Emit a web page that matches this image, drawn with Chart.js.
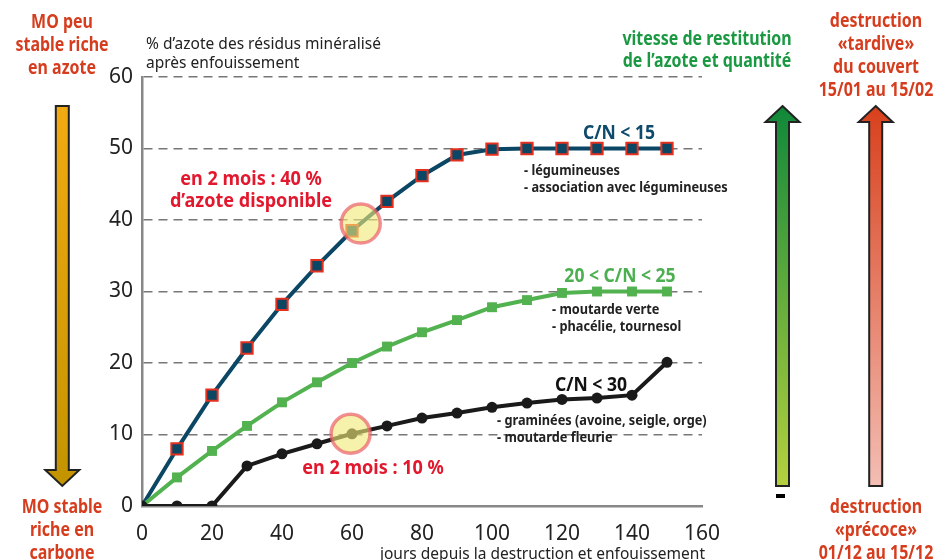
<!DOCTYPE html>
<html>
<head>
<meta charset="utf-8">
<script src="https://cdn.jsdelivr.net/npm/chart.js@4.4.0/dist/chart.umd.min.js"></script>
<style>
  html, body { margin: 0; padding: 0; background: #fff; }
  #wrap { width: 937px; height: 560px; position: relative; }
</style>
</head>
<body>
<div id="wrap"><canvas id="myChart" width="937" height="560"></canvas></div>
<script>
// jours depuis la destruction
const jours = [0, 10, 20, 30, 40, 50, 60, 70, 80, 90, 100, 110, 120, 130, 140, 150];
// % d'azote minéralisé
const cnMoins15 = [0, 8.0, 15.5, 22.1, 28.2, 33.6, 38.5, 42.6, 46.2, 49.1, 49.9, 50, 50, 50, 50, 50];
const cn20a25 = [0, 4.0, 7.7, 11.2, 14.5, 17.3, 20.0, 22.3, 24.3, 26.0, 27.8, 28.8, 29.8, 30, 30, 30];
const cnMoins30 = [0, 0, 0, 5.6, 7.3, 8.7, 10.1, 11.2, 12.3, 13.0, 13.8, 14.4, 14.9, 15.1, 15.5, 20.1];
const yTicks = [0, 10, 20, 30, 40, 50, 60];
const xTicks = [0, 20, 40, 60, 80, 100, 120, 140, 160];
// points mis en évidence (2 mois)
const reperes = [{ x: 62.5, y: 39.5 }, { x: 59.6, y: 10.1 }];

const police = '"Noto Sans", "Open Sans", sans-serif';

function pts(vals) {
    return vals.map((v, i) => ({ x: jours[i], y: v }));
}

function fleche(ctx, cx, haut, bas, vers, c1, c2) {
    // corps 13px, pointe 34px de large, 16px de long
    const sw = 6.5, hw = 17, hl = 16;
    const g = ctx.createLinearGradient(0, haut, 0, bas);
    g.addColorStop(0, c1);
    g.addColorStop(1, c2);
    ctx.beginPath();
    if (vers === 'bas') {
        ctx.moveTo(cx - sw, haut);
        ctx.lineTo(cx + sw, haut);
        ctx.lineTo(cx + sw, bas - hl);
        ctx.lineTo(cx + hw, bas - hl);
        ctx.lineTo(cx, bas);
        ctx.lineTo(cx - hw, bas - hl);
        ctx.lineTo(cx - sw, bas - hl);
    } else {
        ctx.moveTo(cx, haut);
        ctx.lineTo(cx + hw, haut + hl);
        ctx.lineTo(cx + sw, haut + hl);
        ctx.lineTo(cx + sw, bas);
        ctx.lineTo(cx - sw, bas);
        ctx.lineTo(cx - sw, haut + hl);
        ctx.lineTo(cx - hw, haut + hl);
    }
    ctx.closePath();
    ctx.fillStyle = g;
    ctx.fill();
    ctx.lineWidth = 2;
    ctx.strokeStyle = '#222';
    ctx.lineJoin = 'miter';
    ctx.stroke();
}

// texte resserré horizontalement (k) pour imiter une police condensée
function texte(ctx, lignes, x, y0, pas, couleur, taille, gras, align, k) {
    ctx.save();
    ctx.translate(x, 0);
    ctx.scale(k || 1, 1);
    ctx.fillStyle = couleur;
    ctx.font = (gras ? 'bold ' : '') + taille + 'px ' + police;
    ctx.textAlign = align || 'center';
    ctx.textBaseline = 'middle';
    lignes.forEach((l, i) => ctx.fillText(l, 0, y0 + i * pas));
    ctx.restore();
}

const decor = {
    id: 'decor',
    afterDatasetsDraw(chart) {
        const ctx = chart.ctx;
        const xs = chart.scales.x, ys = chart.scales.y;
        ctx.save();
        reperes.forEach(p => {
            ctx.beginPath();
            ctx.arc(xs.getPixelForValue(p.x), ys.getPixelForValue(p.y), 19.5, 0, Math.PI * 2);
            ctx.fillStyle = 'rgba(240, 234, 120, 0.62)';
            ctx.fill();
            ctx.lineWidth = 3.5;
            ctx.strokeStyle = 'rgba(235, 95, 105, 0.7)';
            ctx.stroke();
        });
        ctx.restore();
    },
    afterDraw(chart) {
        const ctx = chart.ctx;
        ctx.save();
        fleche(ctx, 62.3, 106, 486, 'bas', '#f2aa12', '#c29400');
        fleche(ctx, 782.5, 106, 486, 'haut', '#10883a', '#b5d03e');
        fleche(ctx, 875.7, 106, 486, 'haut', '#d8401c', '#f3beb4');
        ctx.fillStyle = '#000';
        ctx.fillRect(776, 494, 9, 4);

        const rouge = '#d63d1e';
        const k = 0.84;
        texte(ctx, ['MO peu', 'stable riche', 'en azote'], 62, 23, 23, rouge, 19, true, 'center', k);
        texte(ctx, ['MO stable', 'riche en', 'carbone'], 62, 508, 23, rouge, 19, true, 'center', k);
        texte(ctx, ['destruction', '«tardive»', 'du couvert', '15/01 au 15/02'], 876, 22, 23, rouge, 19, true, 'center', k);
        texte(ctx, ['destruction', '«précoce»', '01/12 au 15/12'], 876, 508, 23, rouge, 19, true, 'center', k);
        texte(ctx, ['vitesse de restitution', 'de l\u2019azote et quantité'], 707, 40, 22, '#1a9842', 19, true, 'center', k);

        texte(ctx, ['% d\u2019azote des résidus minéralisé', 'après enfouissement'], 146, 44, 19, '#222', 16, false, 'left', 0.97);
        texte(ctx, ['jours depuis la destruction et enfouissement'], 705, 554, 19, '#222', 16, false, 'right', 0.97);

        const rougeVif = '#e2192e';
        texte(ctx, ['en 2 mois : 40 %', 'd\u2019azote disponible'], 251, 180, 22, rougeVif, 19, true, 'center', 0.95);
        texte(ctx, ['en 2 mois : 10 %'], 373, 469, 22, rougeVif, 19, true, 'center', 0.95);

        texte(ctx, ['C/N < 15'], 619, 133, 20, '#0d4a6b', 19.5, true, 'center', 0.9);
        texte(ctx, ['- légumineuses', '- association avec légumineuses'], 524, 171, 17, '#222', 15, true, 'left', 0.85);
        texte(ctx, ['20 < C/N < 25'], 620, 276, 20, '#4caf50', 19.5, true, 'center', 0.9);
        texte(ctx, ['- moutarde verte', '- phacélie, tournesol'], 552, 310, 17, '#222', 15, true, 'left', 0.85);
        texte(ctx, ['C/N < 30'], 591, 385, 20, '#111', 19.5, true, 'center', 0.9);
        texte(ctx, ['- graminées (avoine, seigle, orge)', '- moutarde fleurie'], 497, 421, 17, '#222', 15, true, 'left', 0.85);
        ctx.restore();
    }
};

document.addEventListener('DOMContentLoaded', function() {
    const ctx = document.getElementById('myChart').getContext('2d');
    new Chart(ctx, {
        type: 'line',
        data: {
            datasets: [
                {
                    label: 'C/N < 30',
                    data: pts(cnMoins30),
                    borderColor: '#1a1a1a',
                    backgroundColor: '#1a1a1a',
                    borderWidth: 4,
                    pointStyle: 'circle',
                    pointRadius: 5.5,
                    pointBorderWidth: 0,
                    tension: 0
                },
                {
                    label: '20 < C/N < 25',
                    data: pts(cn20a25),
                    borderColor: '#52b24f',
                    backgroundColor: '#52b24f',
                    borderWidth: 4,
                    pointStyle: 'rect',
                    pointRadius: cn20a25.map((v, i) => i === 0 ? 0 : 7),
                    pointBorderWidth: 0,
                    tension: 0
                },
                {
                    label: 'C/N < 15',
                    data: pts(cnMoins15),
                    borderColor: '#0b4764',
                    backgroundColor: '#0b4764',
                    pointBorderColor: '#e3301f',
                    borderWidth: 4,
                    pointStyle: 'rect',
                    pointRadius: cnMoins15.map((v, i) => i === 0 ? 0 : 8),
                    pointBorderWidth: 2,
                    tension: 0
                }
            ]
        },
        options: {
            responsive: false,
            animation: false,
            devicePixelRatio: 1,
            layout: { padding: { left: 0, right: 235, top: 77, bottom: 0 } },
            plugins: { legend: { display: false }, tooltip: { enabled: false } },
            scales: {
                x: {
                    type: 'linear',
                    min: 0,
                    max: 160,
                    afterBuildTicks: s => { s.ticks = xTicks.map(v => ({ value: v })); },
                    afterFit: s => { s.height = 54; },
                    grid: { display: false },
                    border: { display: true, color: '#888', width: 2.5 },
                    ticks: { color: '#222', padding: 7, maxRotation: 0, font: { size: 21, family: police } }
                },
                y: {
                    min: 0,
                    max: 60,
                    afterBuildTicks: s => { s.ticks = yTicks.map(v => ({ value: v })); },
                    afterFit: s => { s.width = 142; },
                    grid: { color: '#777', lineWidth: 1.6, drawTicks: false },
                    border: { display: true, color: '#888', width: 2.5, dash: [9, 6] },
                    ticks: { color: '#222', padding: 9, font: { size: 21, family: police } }
                }
            }
        },
        plugins: [decor]
    });
});
</script>
</body>
</html>
